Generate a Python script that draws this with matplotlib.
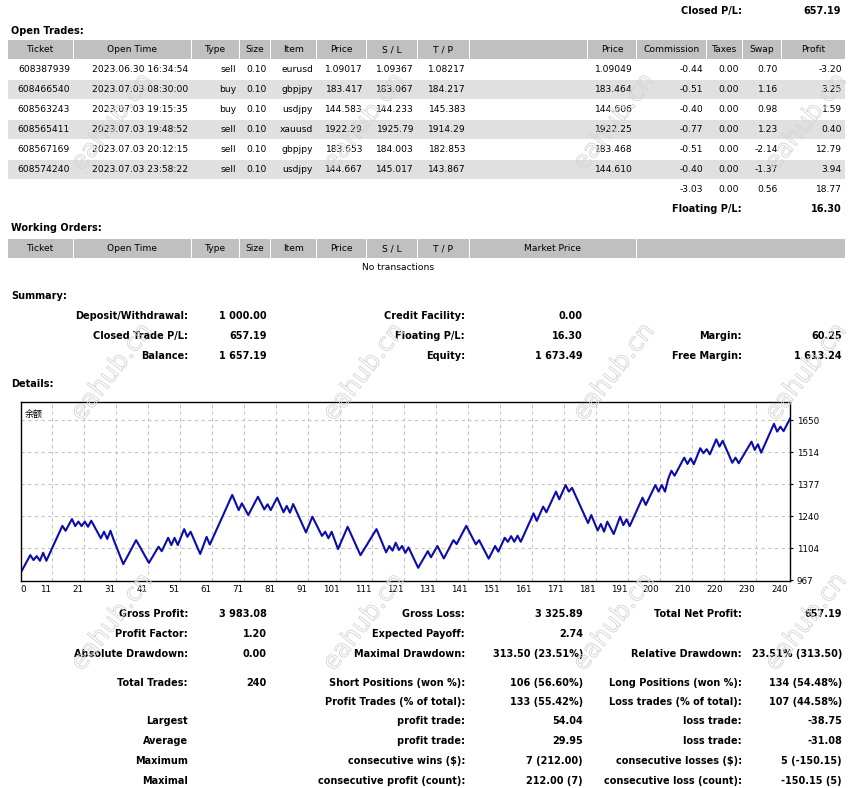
"""MT4-style account statement with the balance curve."""

import matplotlib

matplotlib.use("Agg")

import matplotlib.patheffects as pe
import matplotlib.pyplot as plt
import numpy as np
from matplotlib.patches import Rectangle

W, H = 856, 788
FONT = "DejaVu Sans"
FS = 6.6
FS_BOLD = 7.0
HEAD_GRAY = "#c0c0c0"
ROW_GRAY = "#e0e0e0"

# ---- open trades -------------------------------------------------------
tickets = ["608387939", "608466540", "608563243", "608565411", "608567169", "608574240"]
open_times = ["2023.06.30 16:34:54", "2023.07.03 08:30:00", "2023.07.03 19:15:35",
              "2023.07.03 19:48:52", "2023.07.03 20:12:15", "2023.07.03 23:58:22"]
types = ["sell", "buy", "buy", "sell", "sell", "sell"]
sizes = ["0.10", "0.10", "0.10", "0.10", "0.10", "0.10"]
items = ["eurusd", "gbpjpy", "usdjpy", "xauusd", "gbpjpy", "usdjpy"]
open_prices = ["1.09017", "183.417", "144.583", "1922.29", "183.653", "144.667"]
stop_loss = ["1.09367", "183.067", "144.233", "1925.79", "184.003", "145.017"]
take_profit = ["1.08217", "184.217", "145.383", "1914.29", "182.853", "143.867"]
cur_prices = ["1.09049", "183.464", "144.606", "1922.25", "183.468", "144.610"]
commission = [-0.44, -0.51, -0.40, -0.77, -0.51, -0.40]
taxes = [0.00, 0.00, 0.00, 0.00, 0.00, 0.00]
swap = [0.70, 1.16, 0.98, 1.23, -2.14, -1.37]
profit = [-3.20, 3.25, 1.59, 0.40, 12.79, 3.94]

open_headers = ["Ticket", "Open Time", "Type", "Size", "Item", "Price", "S / L", "T / P",
                "", "Price", "Commission", "Taxes", "Swap", "Profit"]
work_headers = ["Ticket", "Open Time", "Type", "Size", "Item", "Price", "S / L", "T / P",
                "Market Price", ""]

# ---- summary -----------------------------------------------------------
summary_rows = [
    ("Deposit/Withdrawal:", "1 000.00", "Credit Facility:", "0.00", "", ""),
    ("Closed Trade P/L:", "657.19", "Floating P/L:", "16.30", "Margin:", "60.25"),
    ("Balance:", "1 657.19", "Equity:", "1 673.49", "Free Margin:", "1 613.24"),
]

stats_rows = [
    ("Gross Profit:", "3 983.08", "Gross Loss:", "3 325.89", "Total Net Profit:", "657.19"),
    ("Profit Factor:", "1.20", "Expected Payoff:", "2.74", "", ""),
    ("Absolute Drawdown:", "0.00", "Maximal Drawdown:", "313.50 (23.51%)",
     "Relative Drawdown:", "23.51% (313.50)"),
    ("Total Trades:", "240", "Short Positions (won %):", "106 (56.60%)",
     "Long Positions (won %):", "134 (54.48%)"),
    ("", "", "Profit Trades (% of total):", "133 (55.42%)",
     "Loss trades (% of total):", "107 (44.58%)"),
    ("Largest", "", "profit trade:", "54.04", "loss trade:", "-38.75"),
    ("Average", "", "profit trade:", "29.95", "loss trade:", "-31.08"),
    ("Maximum", "", "consecutive wins ($):", "7 (212.00)",
     "consecutive losses ($):", "5 (-150.15)"),
    ("Maximal", "", "consecutive profit (count):", "212.00 (7)",
     "consecutive loss (count):", "-150.15 (5)"),
]
stats_y = [614, 634, 654, 683, 702, 721, 741, 761, 781]

# ---- balance curve: result of each closed trade ------------------------
deposit = 1000.0
trade_profits = [
    25, 25, 25, -21, 17, -20, 34, -34, 30, 30, 30, 30, 29, -21, 25, 25, -30, 19, -19, 19,
    -22, 26, -25, -25, -25, 28, -31, 35, -38.75, -35, -34, -34.25, 25, 26, 25, 26, -24, -24, -25, -24,
    23, 23, 23, -19, 28, 29, -31, 31, -31, 34, 34, -33, 22, -32, -31, -32, 36, 37, -33, 30,
    31, 30, 30, 31, 30, 30, -32, -33, 29, -25, -25, 26, 26, 26, -27, -27, 22, -25, 26, 27,
    -31, -31, 27, -29, 37, -30, -30, -31, -30, 33, 34, -27, -28, -27, 18, -28, 28, -37, -37, 32,
    31, 32, -30, -30, -31, -30, 22, 22, 23, 22, 22, -33, -33, -33, 27, -20, 34, -31, 17, -29,
    23, -29, -29, -29, 24, 23, 24, -26, 24, 24, -26, -27, 26, 26, 26, -17, 26, 26, 26, -26,
    -27, -26, 18, -26, -27, -26, 27, 27, -24, 29, 30, -17, 24, -24, 26, -26, 30, 30, 31, 30,
    -32, 30, 31, -24, 29, 30, 29, -33, 30, 31, -28, 16, -30, -30.15, -30, -30, -30, 34.15, -33, -33,
    28, -33, 43, -26, -27, 37, 37, -36, 25, -29, 30, 30, 31, 30, -31, 28, 29, 28, -28, 28,
    -28, 54.04, 34.96, -21, 26, 25, 26, -27, 24, -25, 34, 34, -21, 17, -22, 32, 32, -31, 25, -31,
    -32, -31, 22, -24, 23, 23, 23, 23, -35, 24, -36, 31, 31, 30, 31, -33, 21, -19, 26.59, 26.60,
]
x_labels = ["0", "11", "21", "31", "41", "51", "61", "71", "81", "91", "101", "111", "121",
            "131", "141", "151", "161", "171", "181", "191", "200", "210", "220", "230", "240"]
y_ticks = [967, 1104, 1240, 1377, 1514, 1650]

# column pixel spans of the statement tables
open_cols = [(8, 73), (74, 191), (192, 239), (240, 270), (271, 316), (317, 366), (367, 417),
             (418, 469), (470, 587), (588, 636), (637, 706), (707, 742), (743, 781), (782, 845)]
work_cols = open_cols[:8] + [(470, 636), (637, 845)]


def put(ax, x, y, s, ha="left", bold=False):
    ax.text(x, y, s, ha=ha, va="center", family=FONT,
            fontsize=FS_BOLD if bold else FS,
            fontweight="bold" if bold else "normal", color="black")


def header(ax, cols, labels, y0):
    for (a, b), lab in zip(cols, labels):
        ax.add_patch(Rectangle((a, y0), b - a, 19, color=HEAD_GRAY, lw=0))
        put(ax, (a + b) / 2, y0 + 9.5, lab, ha="center")


fig = plt.figure(figsize=(W / 100, H / 100), dpi=100)
page = fig.add_axes([0, 0, 1, 1])
page.set_xlim(0, W)
page.set_ylim(H, 0)
page.axis("off")

put(page, 742, 10.5, "Closed P/L:", ha="right", bold=True)
put(page, 841, 10.5, "657.19", ha="right", bold=True)

# open trades
put(page, 11, 30.5, "Open Trades:", bold=True)
header(page, open_cols, open_headers, 40)
for i in range(len(tickets)):
    y = 69 + 20 * i
    if i % 2 == 1:
        page.add_patch(Rectangle((8, y - 9.5), 837, 19, color=ROW_GRAY, lw=0))
    cells = [tickets[i], open_times[i], types[i], sizes[i], items[i], open_prices[i],
             stop_loss[i], take_profit[i], "", cur_prices[i], f"{commission[i]:.2f}",
             f"{taxes[i]:.2f}", f"{swap[i]:.2f}", f"{profit[i]:.2f}"]
    for (a, b), s in zip(open_cols, cells):
        put(page, b - 3, y, s, ha="right")

tot_y = 189
put(page, 703, tot_y, f"{sum(commission):.2f}", ha="right")
put(page, 739, tot_y, f"{sum(taxes):.2f}", ha="right")
put(page, 778, tot_y, f"{sum(swap):.2f}", ha="right")
put(page, 842, tot_y, f"{sum(profit):.2f}", ha="right")
floating = sum(commission) + sum(taxes) + sum(swap) + sum(profit)
put(page, 742, 209, "Floating P/L:", ha="right", bold=True)
put(page, 842, 209, f"{floating:.2f}", ha="right", bold=True)

# working orders
put(page, 11, 228, "Working Orders:", bold=True)
header(page, work_cols, work_headers, 239)
put(page, 398, 268, "No transactions", ha="center")

# summary
put(page, 11, 296, "Summary:", bold=True)
for j, row in enumerate(summary_rows):
    y = 316 + 20 * j
    for s, xr in zip(row, [188, 267, 465, 583, 742, 842]):
        if s:
            put(page, xr, y, s, ha="right", bold=True)

put(page, 11, 384, "Details:", bold=True)

# bottom statistics
for row, y in zip(stats_rows, stats_y):
    for s, xr in zip(row, [188, 267, 465, 583, 742, 842]):
        if s:
            put(page, xr, y, s, ha="right", bold=True)

# ---- balance chart ------------------------------------------------------
balance = deposit + np.concatenate([[0.0], np.cumsum(trade_profits)])
trades = np.arange(len(balance))

left, right, top, bottom = 20.7, 790.0, 402.3, 580.7
ax = fig.add_axes([left / W, 1 - bottom / H, (right - left) / W, (bottom - top) / H])
ax.set_xlim(0, 240)
ax.set_ylim(966, 1727)

px_per_trade = (right - left) / 240
grid_x = (52.3 - left + 32 * np.arange(23)) / px_per_trade
for gx in grid_x:
    ax.axvline(gx, color="#c4c4c4", lw=0.8, ls=(0, (3, 3)), zorder=0)
for gy in y_ticks[1:]:
    ax.axhline(gy, color="#c4c4c4", lw=0.8, ls=(0, (3, 3)), zorder=0)

ax.plot(trades, balance, color="#0c0ca8", lw=1.5, zorder=2)

ax.set_xticks([0] + list(grid_x - 0.35) + [239.4])
ax.set_xticklabels(x_labels, fontsize=6.3, family=FONT)
xt = ax.get_xticklabels()
for lbl in xt:
    lbl.set_ha("right")
xt[0].set_ha("left")
ax.tick_params(axis="x", length=0, pad=3)

ax.yaxis.tick_right()
ax.set_yticks(y_ticks)
ax.set_yticklabels([str(v) for v in y_ticks], fontsize=6.3, family=FONT)
ax.tick_params(axis="y", length=2, pad=3, width=0.8)

for sp in ax.spines.values():
    sp.set_color("black")
    sp.set_linewidth(1.0)

ax.text(0.005, 0.935, "余额", transform=ax.transAxes, fontsize=6.5,
        family=["Noto Sans CJK SC", "DejaVu Sans"], va="center", ha="left")

# ---- site watermark ---------------------------------------------------
for wy in [122, 372, 622]:
    for wx in [112, 364, 614, 806]:
        fig.text(wx / W, 1 - wy / H, "eahub.cn", rotation=52, ha="center", va="center",
                 fontsize=18, family=FONT, color=(1, 1, 1, 0), zorder=10,
                 path_effects=[pe.withStroke(linewidth=0.6, foreground="#d4d4d4")])

fig.savefig("out.png", dpi=100)
